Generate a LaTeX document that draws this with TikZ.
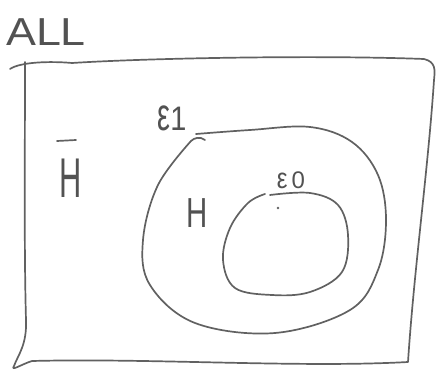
\documentclass[tikz,border=0pt]{standalone}
\usepackage{fontspec}
\setmainfont{Liberation Sans}
\begin{document}
\begin{tikzpicture}[x=1pt,y=-1pt,
  pen/.style={draw=black!62, line width=1.7pt, line cap=round, line join=round},
  lbl/.style={text=black!68, inner sep=0pt}]
\useasboundingbox (0,0) rectangle (438,379);
% outer rectangle (hand drawn)
\draw[pen] (10,69) .. controls (20,62) and (50,61) .. (72,63)
  .. controls (150,58) and (320,55) .. (424,59)
  .. controls (436,62) and (435,70) .. (434,80)
  .. controls (428,170) and (414,270) .. (408,362)
  .. controls (300,368) and (150,358) .. (32,361)
  .. controls (22,364) and (10,372) .. (14,366)
  .. controls (18,355) and (27,345) .. (26,320)
  .. controls (24,250) and (25,150) .. (25,62);
% big oval
\draw[pen] (205,140) .. controls (200,136) and (194,138) .. (191,141);
\draw[pen] plot[smooth, tension=0.6] coordinates {
  (196,134) (250,130) (310,127) (352,142) (378,175) (386,220) (378,270)
  (350,310) (275,333) (195,323) (150,285) (143,240) (158,185) (191,141)};
% inner oval
\draw[pen] plot[smooth, tension=0.6] coordinates {
  (270,195) (310,193) (338,205) (348,235) (342,272)
  (310,292) (272,295) (235,288) (223,260) (230,228) (248,203) (265,194)};
\fill[black!62] (278,208) circle (1.3);
\node[lbl, font=\fontsize{39}{40}\selectfont, xscale=1.15] (all) at (46,32) {ALL};
\node[lbl, font=\fontsize{56}{58}\selectfont, xscale=0.55] (hbar) at (71,178) {H};
\draw[pen] (57,141) -- (76,140);
\node[lbl, font=\fontsize{34}{36}\selectfont, xscale=0.85] (e1) at (172,118) {\scalebox{1}[1.35]{ε}1};
\node[lbl, font=\fontsize{42}{44}\selectfont, xscale=0.7] (h) at (197,213) {H};
\node[lbl, font=\fontsize{24}{26}\selectfont] (e0) at (291,180) {\scalebox{1}[1.2]{ε}\,0};
\end{tikzpicture}
\end{document}
